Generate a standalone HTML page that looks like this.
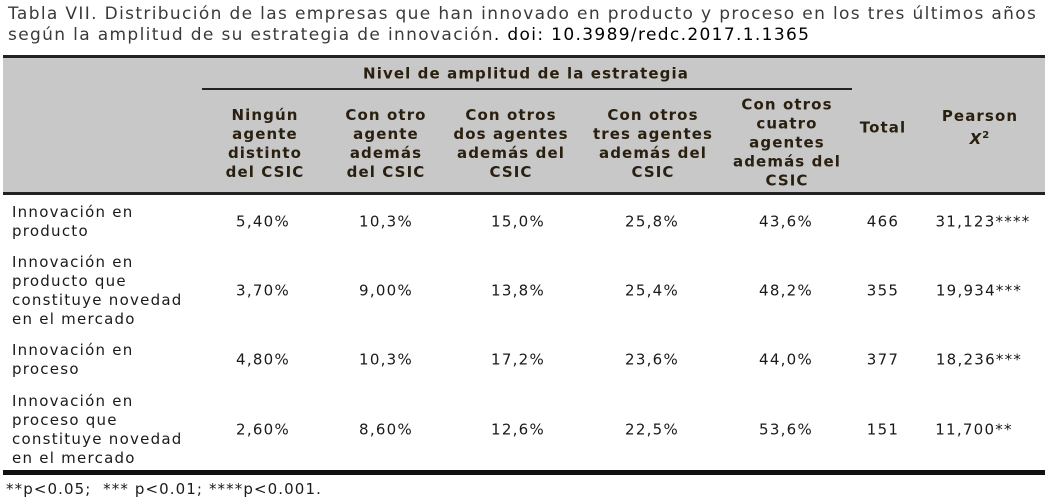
<!DOCTYPE html>
<html><head><meta charset="utf-8"><style>
body{margin:0;width:1048px;height:500px;background:#fff;position:relative;overflow:hidden;font-family:"DejaVu Sans","Liberation Sans",sans-serif;color:#1a1a1a}
.a{position:absolute;white-space:nowrap}
.t{font-size:17px;color:#3a3a3a;left:8px;line-height:21px;letter-spacing:1.35px}
.h{font-weight:bold;font-size:15px;line-height:19px;text-align:center;transform:translate(-50%,-50%);color:#2a2010;letter-spacing:1.1px}
.c{font-size:15px;line-height:19px;transform:translate(-50%,-50%);text-align:center;letter-spacing:1.25px}
.l{font-size:15px;line-height:19px;left:12px;transform:translateY(-50%);letter-spacing:1.25px}
</style></head><body>
<div class="a t" style="top:4px">Tabla VII. Distribución de las empresas que han innovado en producto y proceso en los tres últimos años<br>según la amplitud de su estrategia de innovación<span style="color:#000">. doi: 10.3989/redc.2017.1.1365</span></div>
<div class="a" style="left:3px;top:56px;width:1042px;height:137px;background:#c8c8c8"></div>
<div class="a" style="left:3px;top:55px;width:1042px;height:3px;background:#222"></div>
<div class="a" style="left:202px;top:88px;width:650px;height:2px;background:#222"></div>
<div class="a" style="left:3px;top:192px;width:1042px;height:3px;background:#222"></div>
<div class="a" style="left:3px;top:470px;width:1042px;height:5px;background:#111"></div>
<div class="a h" style="left:526px;top:74px">Nivel de amplitud de la estrategia</div>
<div class="a h" style="left:265px;top:144px">Ningún<br>agente<br>distinto<br>del CSIC</div>
<div class="a h" style="left:386px;top:144px">Con otro<br>agente<br>además<br>del CSIC</div>
<div class="a h" style="left:511px;top:144px">Con otros<br>dos agentes<br>además del<br>CSIC</div>
<div class="a h" style="left:653px;top:144px">Con otros<br>tres agentes<br>además del<br>CSIC</div>
<div class="a h" style="left:787px;top:143px">Con otros<br>cuatro<br>agentes<br>además del<br>CSIC</div>
<div class="a h" style="left:883px;top:128px">Total</div>
<div class="a h" style="left:980px;top:128px">Pearson<br><i>X</i><sup style="font-size:10px">2</sup></div>

<div class="a l" style="top:222px">Innovación en<br>producto</div>
<div class="a l" style="top:291px">Innovación en<br>producto que<br>constituye novedad<br>en el mercado</div>
<div class="a l" style="top:360px">Innovación en<br>proceso</div>
<div class="a l" style="top:430px">Innovación en<br>proceso que<br>constituye novedad<br>en el mercado</div>

<div class="a c" style="left:263px;top:222px">5,40%</div>
<div class="a c" style="left:386px;top:222px">10,3%</div>
<div class="a c" style="left:518px;top:222px">15,0%</div>
<div class="a c" style="left:652px;top:222px">25,8%</div>
<div class="a c" style="left:786px;top:222px">43,6%</div>
<div class="a c" style="left:883px;top:222px">466</div>
<div class="a c" style="left:983px;top:222px">31,123****</div>

<div class="a c" style="left:263px;top:291px">3,70%</div>
<div class="a c" style="left:386px;top:291px">9,00%</div>
<div class="a c" style="left:518px;top:291px">13,8%</div>
<div class="a c" style="left:652px;top:291px">25,4%</div>
<div class="a c" style="left:786px;top:291px">48,2%</div>
<div class="a c" style="left:883px;top:291px">355</div>
<div class="a c" style="left:979px;top:291px">19,934***</div>

<div class="a c" style="left:263px;top:360px">4,80%</div>
<div class="a c" style="left:386px;top:360px">10,3%</div>
<div class="a c" style="left:518px;top:360px">17,2%</div>
<div class="a c" style="left:652px;top:360px">23,6%</div>
<div class="a c" style="left:786px;top:360px">44,0%</div>
<div class="a c" style="left:883px;top:360px">377</div>
<div class="a c" style="left:979px;top:360px">18,236***</div>

<div class="a c" style="left:263px;top:430px">2,60%</div>
<div class="a c" style="left:386px;top:430px">8,60%</div>
<div class="a c" style="left:518px;top:430px">12,6%</div>
<div class="a c" style="left:652px;top:430px">22,5%</div>
<div class="a c" style="left:786px;top:430px">53,6%</div>
<div class="a c" style="left:883px;top:430px">151</div>
<div class="a c" style="left:974px;top:430px">11,700**</div>

<div class="a" style="left:6px;top:480px;font-size:15px;line-height:19px;letter-spacing:1.1px">**p&lt;0.05;&nbsp; *** p&lt;0.01; ****p&lt;0.001.</div>
</body></html>
